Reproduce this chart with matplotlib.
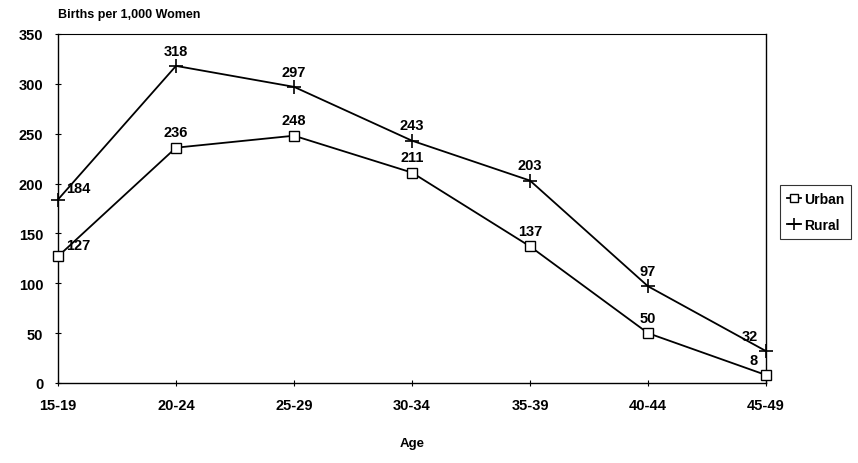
import matplotlib
matplotlib.use("Agg")
import matplotlib.pyplot as plt

# Datos
ages = ["15-19", "20-24", "25-29", "30-34", "35-39", "40-44", "45-49"]
urban = [127, 236, 248, 211, 137, 50, 8]
rural = [184, 318, 297, 243, 203, 97, 32]

plt.rcParams["font.family"] = ["Liberation Sans", "DejaVu Sans"]
plt.rcParams["font.weight"] = "bold"

fig = plt.figure(figsize=(8.58, 4.64), dpi=100)
ax = fig.add_axes([58 / 858, 1 - 384 / 464, 708 / 858, 349 / 464])

x = list(range(len(ages)))
ax.plot(x, urban, color="black", lw=1.3, marker="s", ms=7, mfc="white",
        mec="black", mew=1.0, label="Urban", clip_on=False, zorder=3)
ax.plot(x, rural, color="black", lw=1.3, marker="+", ms=10, mew=1.2,
        label="Rural", clip_on=False, zorder=3)

def etiqueta(i, v, n):
    if i == 0:
        off, ha = (6, 3), "left"
    elif i == n - 1:
        off, ha = (-6, 6), "right"
    else:
        off, ha = (0, 6), "center"
    ax.annotate(str(v), (i, v), xytext=off, textcoords="offset points",
                ha=ha, va="bottom", fontsize=10.5, fontweight="bold")

for i, v in enumerate(urban):
    etiqueta(i, v, len(urban))
for i, v in enumerate(rural):
    etiqueta(i, v, len(rural))

ax.set_xlim(0, len(ages) - 1)
ax.set_ylim(0, 350)
ax.set_xticks(x)
ax.set_xticklabels(ages)
ax.set_yticks(range(0, 351, 50))
ax.tick_params(axis="both", labelsize=10.5, direction="inout", length=5,
               width=0.8, pad=8)
for s in ax.spines.values():
    s.set_linewidth(1.0)
ax.spines["top"].set_linewidth(0.8)

fig.text(58 / 858, 1 - 15 / 464, "Births per 1,000 Women", fontsize=9,
         fontweight="bold", va="center", ha="left")
ax.set_xlabel("Age", fontsize=9.5, fontweight="bold", labelpad=18)

leg = ax.legend(loc="center left", bbox_to_anchor=(1.02, 0.49), fontsize=10,
                frameon=True, fancybox=False, edgecolor="black",
                handlelength=1.0, handletextpad=0.2, borderpad=0.5,
                labelspacing=0.9, borderaxespad=0, markerscale=0.9)
leg.get_frame().set_linewidth(0.8)

fig.savefig("out.png", dpi=100)
